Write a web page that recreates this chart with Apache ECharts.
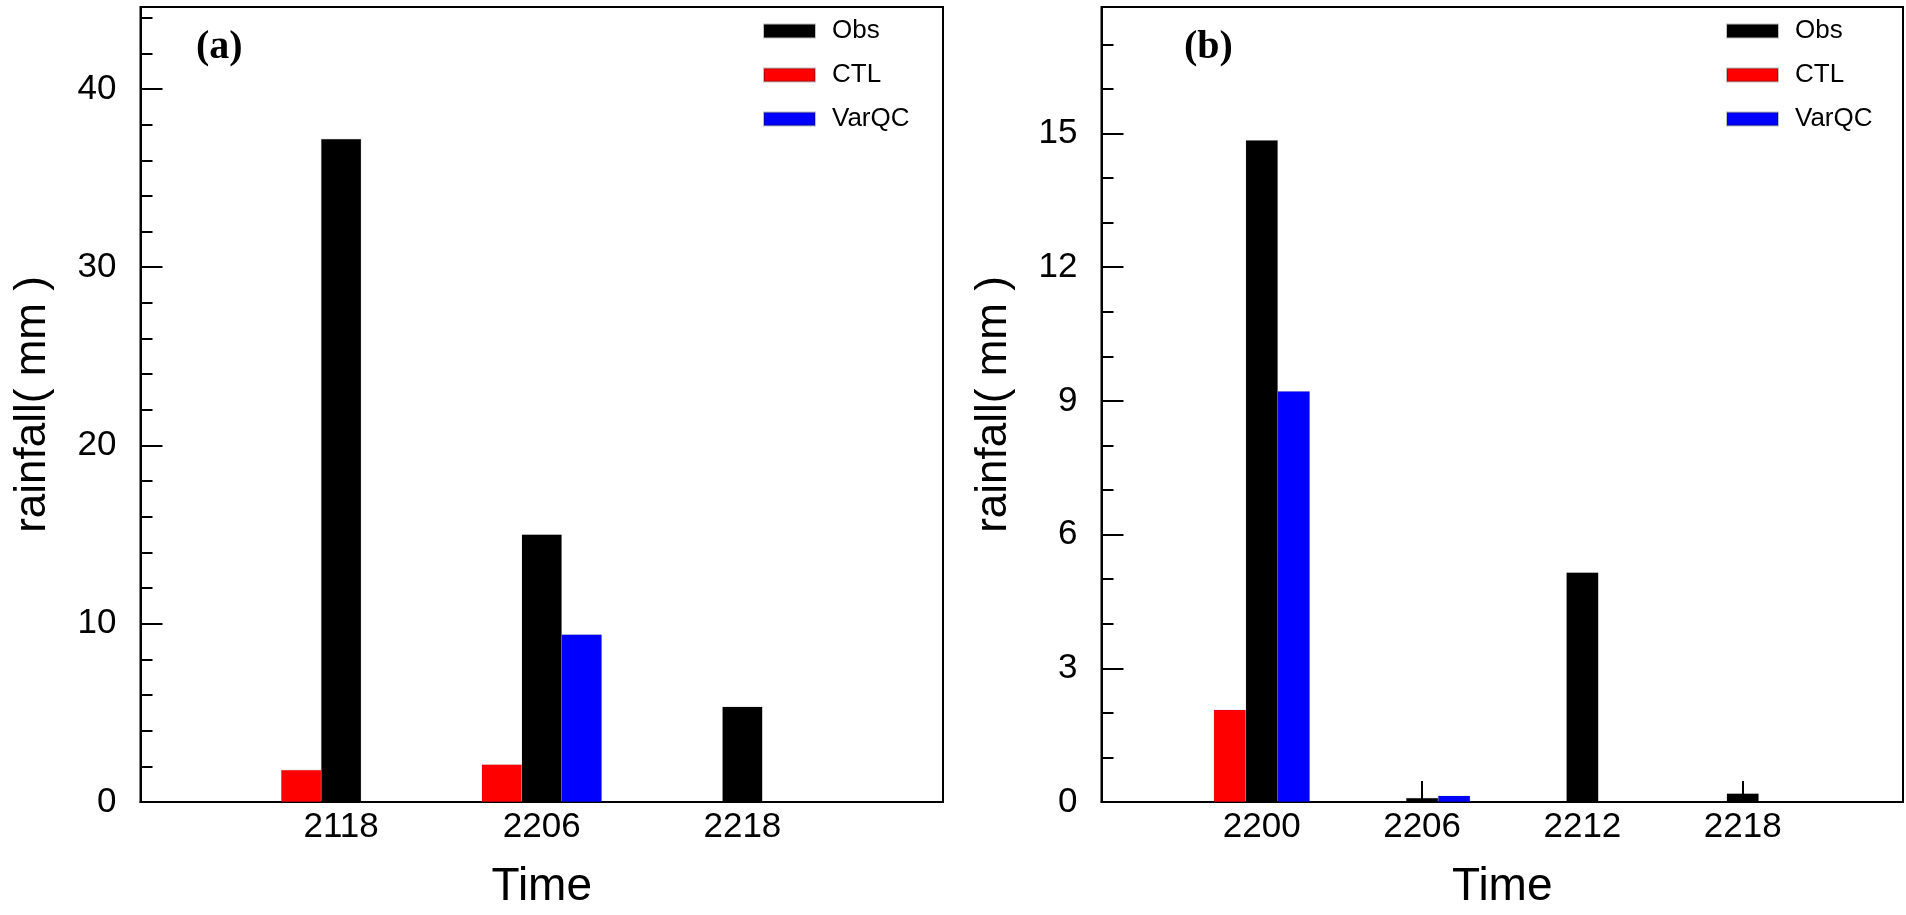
<!DOCTYPE html>
<html>
<head>
<meta charset="utf-8">
<script src="https://cdn.jsdelivr.net/npm/echarts@6/dist/echarts.min.js"></script>
<style>
  html, body { margin: 0; padding: 0; background: #fff; }
  #chart { width: 1906px; height: 915px; }
</style>
</head>
<body>
<div id="chart"></div>
<script>
// panel (a): times, and hours since 21 00
var timesA = ['2118', '2206', '2218'];
var hoursA = [18, 30, 42];
var obsA   = [37.2, 15.0, 5.35];
var ctlA   = [1.8, 2.1, 0];
var varqcA = [0, 9.4, 0];

// panel (b): times, and hours since 22 00
var timesB = ['2200', '2206', '2212', '2218'];
var hoursB = [0, 6, 12, 18];
var obsB   = [14.85, 0.09, 5.15, 0.19];
var ctlB   = [2.07, 0, 0, 0];
var varqcB = [9.22, 0.14, 0, 0];

// y tick labels and minor ticks
var yTicksA = [0, 10, 20, 30, 40];
var yMinorA = [2, 4, 6, 8, 12, 14, 16, 18, 22, 24, 26, 28, 32, 34, 36, 38, 42, 44];
var yTicksB = [0, 3, 6, 9, 12, 15];
var yMinorB = [1, 2, 4, 5, 7, 8, 10, 11, 13, 14, 16, 17];

function pairs(xs, ys) {
    return xs.map(function (x, i) { return [x, ys[i]]; });
}

var font = 'Liberation Sans';

function makeX(idx, hours, labels, min, max) {
    return {
        type: 'value',
        gridIndex: idx,
        min: min,
        max: max,
        name: 'Time',
        nameLocation: 'middle',
        nameGap: 62,
        nameTextStyle: { fontFamily: font, fontSize: 46, color: '#000' },
        axisLine: { show: true, onZero: false, lineStyle: { color: '#000', width: 2 } },
        axisTick: { show: true, inside: true, length: 21, customValues: hours,
                    lineStyle: { color: '#000', width: 2 } },
        axisLabel: {
            customValues: hours,
            margin: 8,
            fontFamily: font, fontSize: 35, color: '#000',
            formatter: function (v) { return labels[hours.indexOf(v)]; }
        },
        splitLine: { show: false }
    };
}

function makeY(idx, max, ticks) {
    return {
        type: 'value',
        gridIndex: idx,
        position: 'left',
        min: 0,
        max: max,
        name: 'rainfall( mm )',
        nameLocation: 'middle',
        nameGap: 86,
        nameTextStyle: { fontFamily: font, fontSize: 44, color: '#000' },
        axisLine: { show: true, onZero: false, lineStyle: { color: '#000', width: 2 } },
        axisTick: { show: true, inside: true, length: 22, customValues: ticks,
                    lineStyle: { color: '#000', width: 2 } },
        axisLabel: {
            customValues: ticks,
            margin: 24,
            fontFamily: font, fontSize: 35, color: '#000'
        },
        splitLine: { show: false }
    };
}

// second left axis on the same grid, only for the short minor ticks
function makeMinorY(idx, max, minors) {
    return {
        type: 'value',
        gridIndex: idx,
        position: 'left',
        min: 0,
        max: max,
        axisLine: { show: false, onZero: false },
        axisTick: { show: true, inside: true, length: 12, customValues: minors,
                    lineStyle: { color: '#000', width: 2 } },
        axisLabel: { show: false },
        splitLine: { show: false }
    };
}

function bars(name, idx, xs, ys, color, w) {
    return {
        name: name,
        type: 'bar',
        xAxisIndex: idx,
        yAxisIndex: idx * 2,
        barWidth: w,
        barGap: '0%',
        data: pairs(xs, ys),
        itemStyle: { color: color, borderColor: 'rgba(0,0,0,0.25)', borderWidth: 0.5 },
        emphasis: { disabled: true }
    };
}

function legendAt(left) {
    return {
        orient: 'vertical',
        left: left,
        top: 18,
        padding: 0,
        icon: 'rect',
        itemWidth: 51,
        itemHeight: 13,
        itemGap: 18,
        selectedMode: false,
        data: ['Obs', 'CTL', 'VarQC'],
        textStyle: { fontFamily: font, fontSize: 26, color: '#000', padding: [0, 0, 0, 12] }
    };
}

var titleStyle = { fontFamily: 'Liberation Serif', fontWeight: 'bold', fontSize: 40, color: '#000' };

var chart = echarts.init(document.getElementById('chart'));
chart.setOption({
    backgroundColor: '#fff',
    animation: false,
    title: [
        { text: '(a)', left: 196, top: 28, padding: 0, textStyle: titleStyle },
        { text: '(b)', left: 1184, top: 28, padding: 0, textStyle: titleStyle }
    ],
    legend: [legendAt(763), legendAt(1726)],
    grid: [
        { left: 140.5, top: 7, width: 802.5, height: 797, show: true, borderColor: '#000', borderWidth: 2 },
        { left: 1101.5, top: 7, width: 801.5, height: 797, show: true, borderColor: '#000', borderWidth: 2 }
    ],
    xAxis: [
        makeX(0, hoursA, timesA, 6, 54),
        makeX(1, hoursB, timesB, -6, 24)
    ],
    yAxis: [
        makeY(0, 44.6, yTicksA),
        makeMinorY(0, 44.6, yMinorA),
        makeY(1, 17.84, yTicksB),
        makeMinorY(1, 17.84, yMinorB)
    ],
    series: [
        bars('CTL', 0, hoursA, ctlA, '#ff0000', 40),
        bars('Obs', 0, hoursA, obsA, '#000000', 40),
        bars('VarQC', 0, hoursA, varqcA, '#0000ff', 40),
        bars('CTL', 1, hoursB, ctlB, '#ff0000', 32),
        bars('Obs', 1, hoursB, obsB, '#000000', 32),
        bars('VarQC', 1, hoursB, varqcB, '#0000ff', 32)
    ]
});
</script>
</body>
</html>
